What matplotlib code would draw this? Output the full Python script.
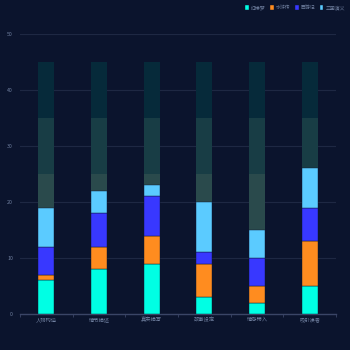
import matplotlib
matplotlib.use("Agg")
import matplotlib.pyplot as plt
import numpy as np

plt.rcParams['font.family'] = ['Noto Sans CJK SC', 'DejaVu Sans']

categories = ["人物构造", "情节描述", "真实描写", "故事设定", "情感带入", "吸引读者"]
series_names = ["红楼梦", "水浒传", "西游记", "三国演义"]
series_values = [
    [6, 8, 9, 3, 2, 5],
    [1, 4, 5, 6, 3, 8],
    [5, 6, 7, 2, 5, 6],
    [7, 4, 2, 9, 5, 7],
]
series_colors = ["#00FFE4", "#FF8C1F", "#3838FF", "#5BCBFF"]

# background bands behind each column
band_tops = [45, 35, 25]
band_colors = ["#062A3A", "#183D45", "#2A4A4C"]

yticks = [0, 10, 20, 30, 40, 50]

bg = "#0B142D"
fig = plt.figure(figsize=(3.5, 3.5), dpi=100, facecolor=bg)
ax = fig.add_axes([20/350, 36/350, 316/350, 280/350], facecolor=bg)

x = np.arange(len(categories))
w = 0.3
for top, c in zip(band_tops, band_colors):
    ax.bar(x, [top]*len(x), width=w, color=c, zorder=2)

bottom = np.zeros(len(x))
for name, vals, c in zip(series_names, series_values, series_colors):
    ax.bar(x, vals, width=w, bottom=bottom, color=c, label=name, zorder=3,
           edgecolor=bg, linewidth=0.3)
    bottom += np.array(vals)

ax.set_xlim(-0.5, len(x) - 0.5)
ax.set_ylim(0, 50)
ax.set_yticks(yticks)
ax.set_xticks(x)
ax.set_xticklabels(categories)
ax.tick_params(axis='y', length=0, labelsize=3.8, labelcolor="#7080A0", pad=5)
ax.tick_params(axis='x', length=0, labelsize=3.8, labelcolor="#7080A0", pad=2)
ax.set_xticks(np.arange(len(x) + 1) - 0.5, minor=True)
ax.tick_params(axis='x', which='minor', length=2, color="#3A4566", width=0.6)
ax.grid(axis='y', color="#1E2843", linewidth=0.8, zorder=0)
for s in ["top", "right", "left"]:
    ax.spines[s].set_visible(False)
ax.spines["bottom"].set_color("#3A4566")
ax.spines["bottom"].set_linewidth(1)

leg = fig.legend(loc="upper right", bbox_to_anchor=(0.995, 0.995), ncol=4, frameon=False,
                 fontsize=3.5, labelcolor="#7080A0", handlelength=0.8, handleheight=1.3,
                 handletextpad=0.4, columnspacing=0.9, borderaxespad=0.3)

fig.savefig("out.png", dpi=100, facecolor=bg)
